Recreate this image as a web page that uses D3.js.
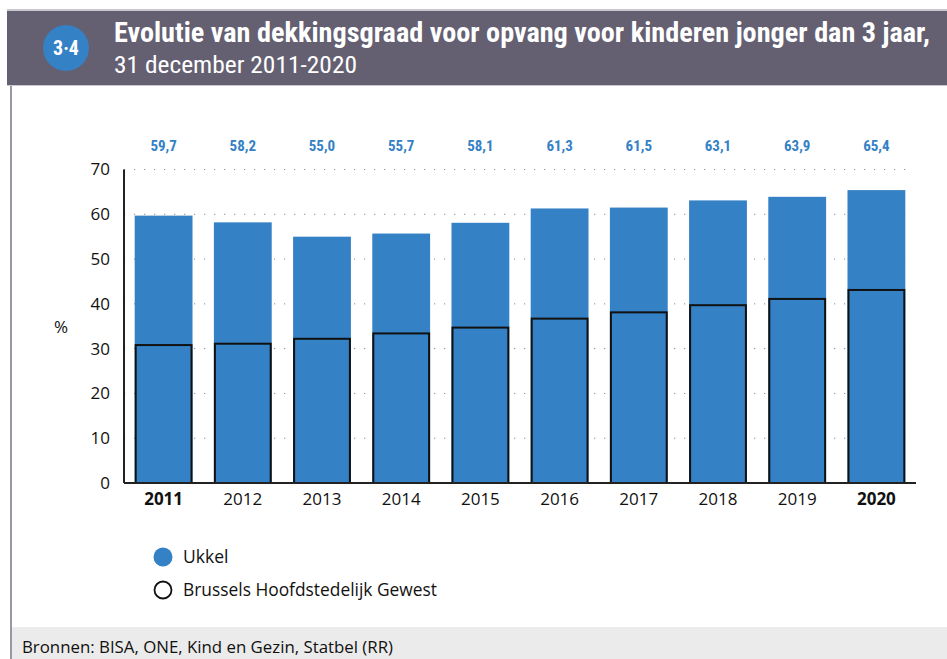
<!DOCTYPE html>
<html>
<head>
<meta charset="utf-8">
<script src="https://cdn.jsdelivr.net/npm/d3@7"></script>
<style>
  body { margin: 0; background: #fff; }
  svg { display: block; }
</style>
</head>
<body>
<div id="chart"></div>
<script>
const years = [2011, 2012, 2013, 2014, 2015, 2016, 2017, 2018, 2019, 2020];
const ukkel = [59.7, 58.2, 55.0, 55.7, 58.1, 61.3, 61.5, 63.1, 63.9, 65.4];
const brussels = [30.8, 31.1, 32.2, 33.4, 34.7, 36.7, 38.1, 39.7, 41.1, 43.1];
const yTicks = [0, 10, 20, 30, 40, 50, 60, 70];
const boldYears = [2011, 2020];

const W = 947, H = 659;
const blue = "#3481c5";
const condensed = "'Liberation Sans Narrow', 'Roboto Condensed', 'Open Sans', sans-serif";
const body = "'Open Sans', 'Noto Sans', sans-serif";

let svg = d3.select("#chart").append("svg").attr("width", W).attr("height", H);

// frame and header
svg.append("line").attr("x1", 11).attr("x2", 11).attr("y1", 10).attr("y2", H)
  .attr("stroke", "#9a97a2").attr("stroke-width", 2);
svg.append("rect").attr("x", 7).attr("y", 9).attr("width", W - 7).attr("height", 77).attr("fill", "#c9c7cf");
svg.append("rect").attr("x", 7).attr("y", 11).attr("width", W - 7).attr("height", 74).attr("fill", "#646072");
svg.append("circle").attr("cx", 66).attr("cy", 48).attr("r", 23).attr("fill", blue);
svg.append("text").attr("x", 66).attr("y", 55).attr("text-anchor", "middle")
  .attr("fill", "#fff").attr("font-family", condensed).attr("font-weight", "bold").attr("font-size", 20)
  .text("3·4");
svg.append("text").attr("x", 114).attr("y", 42).attr("fill", "#fff")
  .attr("font-family", condensed).attr("font-weight", "bold").attr("font-size", 27)
  .attr("textLength", 816).attr("lengthAdjust", "spacingAndGlyphs")
  .text("Evolutie van dekkingsgraad voor opvang voor kinderen jonger dan 3 jaar,");
svg.append("text").attr("x", 114).attr("y", 73).attr("fill", "#fff")
  .attr("font-family", condensed).attr("font-size", 23)
  .attr("textLength", 243).attr("lengthAdjust", "spacingAndGlyphs")
  .text("31 december 2011-2020");

// footer
svg.append("rect").attr("x", 12).attr("y", 627).attr("width", W - 12).attr("height", H - 627).attr("fill", "#ebebeb");
svg.append("text").attr("x", 22).attr("y", 653).attr("fill", "#111")
  .attr("font-family", body).attr("font-size", 16.5)
  .attr("textLength", 371).attr("lengthAdjust", "spacingAndGlyphs")
  .text("Bronnen: BISA, ONE, Kind en Gezin, Statbel (RR)");

// scales
let x = d3.scaleBand().domain(years).range([124, 916]).paddingInner(0.27).paddingOuter(0.135);
let y = d3.scaleLinear().domain([0, 70]).range([483, 169.5]);

// grid
let grid = svg.append("g");
grid.selectAll("line").data(yTicks.filter(d => d > 0)).join("line")
  .attr("x1", 124).attr("x2", 914)
  .attr("y1", d => y(d)).attr("y2", d => y(d))
  .attr("stroke", "#8a8a8a").attr("stroke-width", 1)
  .attr("stroke-dasharray", "1.2,8.8");

// bars
svg.append("g").selectAll("rect").data(years).join("rect")
  .attr("x", d => x(d)).attr("width", x.bandwidth())
  .attr("y", (d, i) => y(ukkel[i])).attr("height", (d, i) => y(0) - y(ukkel[i]))
  .attr("fill", blue);
svg.append("g").selectAll("rect").data(years).join("rect")
  .attr("x", d => x(d) + 1).attr("width", x.bandwidth() - 2)
  .attr("y", (d, i) => y(brussels[i])).attr("height", (d, i) => y(0) - y(brussels[i]))
  .attr("fill", "none").attr("stroke", "#111").attr("stroke-width", 2);

// value labels
svg.append("g").selectAll("text").data(years).join("text")
  .attr("x", d => x(d) + x.bandwidth() / 2).attr("y", 151)
  .attr("text-anchor", "middle").attr("fill", blue)
  .attr("font-family", condensed).attr("font-weight", "bold").attr("font-size", 15)
  .text((d, i) => d3.format(".1f")(ukkel[i]).replace(".", ","));

// axes
let yAxis = d3.axisLeft(y).tickValues(yTicks).tickSize(0).tickPadding(14);
let yg = svg.append("g").attr("transform", "translate(124,0)").call(yAxis);
yg.select(".domain").attr("stroke", "#222").attr("stroke-width", 2).attr("d", `M0,${y(70)}V${y(0)}`);
yg.selectAll("text").attr("font-family", body).attr("font-size", 17).attr("fill", "#111");

let xAxis = d3.axisBottom(x).tickSize(0).tickPadding(10);
let xg = svg.append("g").attr("transform", `translate(0,${y(0)})`).call(xAxis);
xg.select(".domain").attr("stroke", "#222").attr("stroke-width", 2).attr("d", "M124,0H916");
xg.selectAll("text").attr("font-family", body).attr("font-size", 17).attr("fill", "#111")
  .attr("font-weight", d => boldYears.includes(d) ? "bold" : "normal");

svg.append("text").attr("x", 61).attr("y", 333).attr("text-anchor", "middle")
  .attr("font-family", body).attr("font-size", 17).attr("fill", "#111").text("%");

// legend
let legend = svg.append("g");
legend.append("circle").attr("cx", 163).attr("cy", 557).attr("r", 9.5).attr("fill", blue);
legend.append("text").attr("x", 183).attr("y", 563).attr("font-family", body).attr("font-size", 17.5)
  .attr("fill", "#111").text("Ukkel");
legend.append("circle").attr("cx", 163).attr("cy", 590).attr("r", 8.5).attr("fill", "#fff")
  .attr("stroke", "#111").attr("stroke-width", 1.8);
legend.append("text").attr("x", 183).attr("y", 596).attr("font-family", body).attr("font-size", 17.5)
  .attr("fill", "#111").attr("textLength", 254).attr("lengthAdjust", "spacingAndGlyphs")
  .text("Brussels Hoofdstedelijk Gewest");
</script>
</body>
</html>
